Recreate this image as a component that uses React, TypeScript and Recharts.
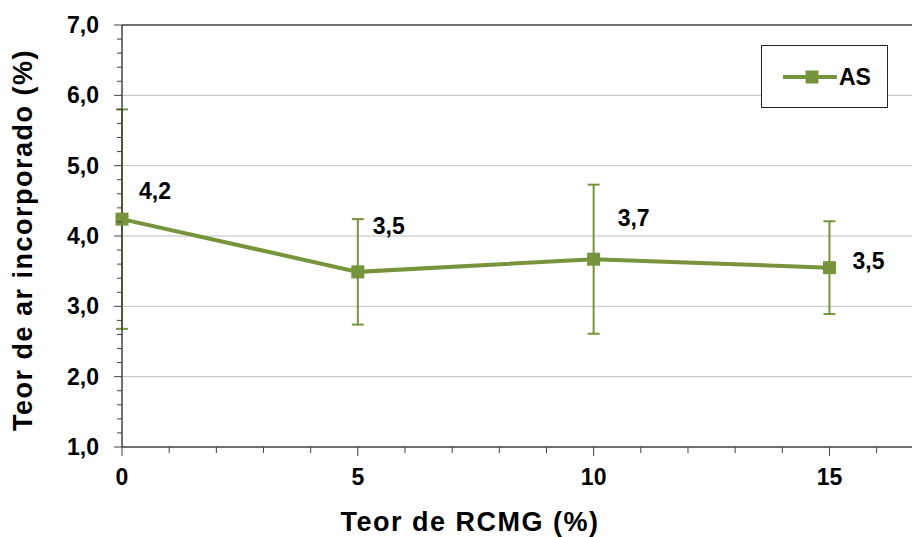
import { LineChart, Line, XAxis, YAxis, ErrorBar, LabelList, ReferenceLine, Legend } from "recharts";

const categories = [0, 5, 10, 15];
const asValues = [4.24, 3.49, 3.67, 3.55];
const asErrors = [1.56, 0.75, 1.06, 0.66];

const xTicks = [0, 1, 2, 3, 4, 5, 6, 7, 8, 9, 10, 11, 12, 13, 14, 15, 16];
const xTickLabels = ["0", "5", "10", "15"];
const yTicks = [
  1, 1.2, 1.4, 1.6, 1.8, 2, 2.2, 2.4, 2.6, 2.8, 3, 3.2, 3.4, 3.6, 3.8, 4, 4.2, 4.4, 4.6, 4.8, 5,
  5.2, 5.4, 5.6, 5.8, 6, 6.2, 6.4, 6.6, 6.8, 7,
];
const yGrid = [2, 3, 4, 5, 6];

const GREEN = "#77933C";
const FONT = "'Liberation Sans', Arial, sans-serif";

// label offsets relative to each point (style only)
const labelOffsets = [
  [33, -28],
  [31, -46],
  [40, -41],
  [39, -7],
];

const data = categories.map((c, i) => ({ x: c, value: asValues[i], err: asErrors[i] }));

const isMajor = (v: number) => Math.abs(v - Math.round(v)) < 1e-6;

function YTick(props: any) {
  const { x, y, payload } = props;
  const v = payload.value as number;
  const major = isMajor(v);
  return (
    <g>
      <line x1={x - (major ? 8 : 5)} x2={x} y1={y} y2={y} stroke="#404040" strokeWidth={1} />
      {major && (
        <text x={x - 23} y={y} textAnchor="end" dominantBaseline="central" fontFamily={FONT} fontWeight="bold" fontSize={23} fill="#000">
          {v.toFixed(1).replace(".", ",")}
        </text>
      )}
    </g>
  );
}

function XTick(props: any) {
  const { x, y, payload } = props;
  const v = payload.value as number;
  const label = xTickLabels.find((t) => Number(t) === v);
  return (
    <g>
      <line x1={x} x2={x} y1={y} y2={y + (label ? 9 : 6)} stroke="#404040" strokeWidth={1} />
      {label && (
        <text x={x} y={y + 30} textAnchor="middle" dominantBaseline="central" fontFamily={FONT} fontWeight="bold" fontSize={23} fill="#000">
          {label}
        </text>
      )}
    </g>
  );
}

function SquareDot(props: any) {
  const { cx, cy, index } = props;
  if (cx == null || cy == null) return <g key={index} />;
  return <rect key={index} x={cx - 6.5} y={cy - 6.5} width={13} height={13} fill={GREEN} />;
}

function ValueLabel(props: any) {
  const { x, y, value, index } = props;
  const [dx, dy] = labelOffsets[index] || [30, -30];
  return (
    <text x={x + dx} y={y + dy} textAnchor="middle" dominantBaseline="central" fontFamily={FONT} fontWeight="bold" fontSize={23} fill="#000">
      {Number(value).toFixed(1).replace(".", ",")}
    </text>
  );
}

function LegendBox() {
  return (
    <div style={{ width: 127, height: 63, border: "1px solid #222", background: "#fff", boxSizing: "border-box" }}>
      <svg width={125} height={61} style={{ display: "block" }}>
        <line x1={21} x2={75} y1={31} y2={31} stroke={GREEN} strokeWidth={4} />
        <rect x={43.5} y={24.5} width={13} height={13} fill={GREEN} />
        <text x={77} y={31} dominantBaseline="central" fontFamily={FONT} fontWeight="bold" fontSize={23} fill="#000">
          AS
        </text>
      </svg>
    </div>
  );
}

const titleStyle = { fontFamily: FONT, fontWeight: "bold", fontSize: 27, letterSpacing: 1.5, fill: "#000" } as const;

function XTitle(props: any) {
  const vb = props.viewBox;
  return (
    <text x={470} y={vb.y + vb.height - 6} textAnchor="middle" style={titleStyle}>
      Teor de RCMG (%)
    </text>
  );
}

function YTitle(props: any) {
  const vb = props.viewBox;
  const cx = 32;
  const cy = vb.y + vb.height / 2 + 4;
  return (
    <text x={cx} y={cy} textAnchor="middle" transform={`rotate(-90, ${cx}, ${cy})`} style={titleStyle}>
      Teor de ar incorporado (%)
    </text>
  );
}

export default function App() {
  return (
    <div style={{ position: "absolute", left: 0, top: 0, width: 912, height: 537, background: "#fff" }}>
      <LineChart width={912} height={537} data={data} margin={{ top: 25, right: 0, bottom: 0, left: 0 }}>
        {yGrid.map((g) => (
          <ReferenceLine key={g} y={g} stroke="#BFBFBF" strokeWidth={1} />
        ))}
        <ReferenceLine y={7} stroke="#404040" strokeWidth={1.5} />
        <XAxis
          type="number"
          dataKey="x"
          domain={[0, 16.75]}
          ticks={xTicks}
          interval={0}
          height={90}
          tickLine={false}
          tickSize={0}
          tickMargin={0}
          axisLine={{ stroke: "#404040", strokeWidth: 1.5 }}
          tick={<XTick />}
          label={XTitle}
        />
        <YAxis
          type="number"
          domain={[1, 7]}
          ticks={yTicks}
          interval={0}
          width={122}
          tickLine={false}
          tickSize={0}
          tickMargin={0}
          axisLine={{ stroke: "#404040", strokeWidth: 1.5 }}
          tick={<YTick />}
          label={YTitle}
        />
        <Legend
          layout="vertical"
          align="center"
          verticalAlign="middle"
          content={<LegendBox />}
          wrapperStyle={{ left: 761, top: 45, width: 127, height: 63 }}
        />
        <Line
          type="linear"
          dataKey="value"
          name="AS"
          stroke={GREEN}
          strokeWidth={4}
          dot={<SquareDot />}
          activeDot={false}
          isAnimationActive={false}
        >
          <ErrorBar dataKey="err" width={6} strokeWidth={2} stroke={GREEN} direction="y" />
          <LabelList dataKey="value" content={<ValueLabel />} />
        </Line>
      </LineChart>
    </div>
  );
}
